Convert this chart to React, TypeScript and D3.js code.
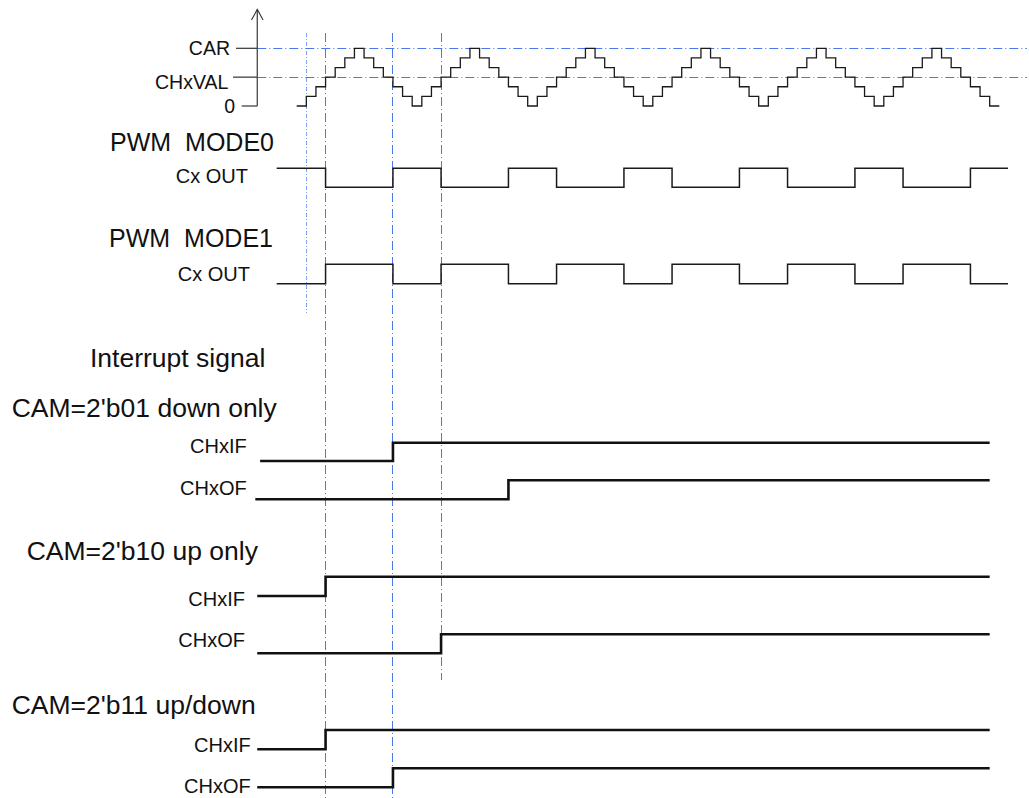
import React from 'react';
import * as d3 from 'd3';

// ---- data ----
const counterValues = [
  0,
  1, 2, 3, 4, 5, 6, 5, 4, 3, 2, 1, 0,
  1, 2, 3, 4, 5, 6, 5, 4, 3, 2, 1, 0,
  1, 2, 3, 4, 5, 6, 5, 4, 3, 2, 1, 0,
  1, 2, 3, 4, 5, 6, 5, 4, 3, 2, 1, 0,
  1, 2, 3, 4, 5, 6, 5, 4, 3, 2, 1, 0,
  1, 2, 3, 4, 5, 6, 5, 4, 3, 2, 1, 0,
];
const carValue = 6;
const chxValValue = 3;
const axisLabels = ['CAR', 'CHxVAL', '0'];
const axisValues = [6, 3, 0];
const markerSteps = [1, 3, 10, 15];
const pwmTitles = ['PWM  MODE0', 'PWM  MODE1'];
const pwmSignal = 'Cx OUT';
const interruptTitle = 'Interrupt signal';
const camTitles = ["CAM=2'b01 down only", "CAM=2'b10 up only", "CAM=2'b11 up/down"];
const ifEdgeSteps = [10, 3, 3];
const ofEdgeSteps = [22, 15, 10];
const flagNames = ['CHxIF', 'CHxOF'];

// ---- layout ----
const W = 1029;
const H = 798;
const FONT = "'Liberation Sans', Arial, Helvetica, sans-serif";
const BLUE = '#4a78f5';
const DASH = '9,3,1,3';

const x = d3.scaleLinear().domain([0, counterValues.length]).range([296.7, 999.3]);
const yC = d3.scaleLinear().domain([0, 6]).range([106, 48.3]);
const snap = (v: number) => Math.round(v - 0.5) + 0.5;

const stepLine = d3
  .line<[number, number]>()
  .x((d) => x(d[0]))
  .curve(d3.curveStepAfter);

const pwmLayout = [
  { titleX: 274, titleY: 151, sigX: 248, sigY: 183, high: 168.3, low: 187.3, invert: false },
  { titleX: 273, titleY: 247, sigX: 250, sigY: 281, high: 264.3, low: 283.7, invert: true },
];
const camLayout = [
  { titleX: 11.7, titleY: 417.3, rows: [
    { lx: 246.7, ly: 453.3, start: -3.8, high: 442.7, low: 461 },
    { lx: 246.7, ly: 495, start: -4.3, high: 480.3, low: 499.3 },
  ] },
  { titleX: 26.7, titleY: 560, rows: [
    { lx: 245, ly: 606, start: -4.1, high: 576.7, low: 596 },
    { lx: 245, ly: 647.3, start: -4.1, high: 634.3, low: 653.3 },
  ] },
  { titleX: 11.7, titleY: 714.3, rows: [
    { lx: 250.7, ly: 751.7, start: -4.1, high: 730, low: 749.3 },
    { lx: 250.7, ly: 792.7, start: -4.1, high: 768.3, low: 787.3 },
  ] },
];
const markerEnds = [313, 798, 798, 680];
const tickStarts = [236, 233, 241.7];
const labelEnds = [230, 228.3, 235];
const labelDy = [6.7, 12.2, 7.3];

export default function App() {
  const last = counterValues[counterValues.length - 1];
  const counterPts: [number, number][] = counterValues.map((v, i) => [i, v] as [number, number]);
  counterPts.push([counterValues.length, last]);
  const counterPath = stepLine.y((d) => yC(d[1]))(counterPts) || '';

  const axisX = 257.3;

  return (
    <svg
      width={W}
      height={H}
      style={{ position: 'absolute', left: 0, top: 0, background: '#fff' }}
      fontFamily={FONT}
    >
      <rect x={0} y={0} width={W} height={H} fill="#fff" />

      {/* reference lines */}
      {[carValue, chxValValue].map((v, i) => (
        <line key={'h' + i} x1={axisX} x2={1027} y1={snap(yC(v))} y2={snap(yC(v))} stroke={BLUE} strokeWidth={1} strokeDasharray={DASH} />
      ))}
      {markerSteps.map((s, i) => (
        <line key={'v' + i} x1={snap(x(s))} x2={snap(x(s))} y1={33} y2={markerEnds[i]} stroke={BLUE} strokeWidth={1} strokeDasharray={i === 0 ? '4,2,1,2' : DASH} opacity={i === 0 ? 0.7 : 1} />
      ))}

      {/* axis */}
      <line x1={axisX} x2={axisX} y1={9.5} y2={106} stroke="#555" strokeWidth={1.4} />
      <polyline points={`${axisX - 5.8},20 ${axisX},9.5 ${axisX + 5.8},20`} fill="none" stroke="#333" strokeWidth={1.1} />
      {axisValues.map((v, i) => (
        <g key={'t' + i}>
          <line x1={tickStarts[i]} x2={axisX} y1={yC(v)} y2={yC(v)} stroke="#333" strokeWidth={1.2} />
          <text x={labelEnds[i]} y={yC(v) + labelDy[i]} textAnchor="end" fontSize={19.5} fill="#111">
            {axisLabels[i]}
          </text>
        </g>
      ))}

      {/* counter staircase */}
      <path d={counterPath} fill="none" stroke="#1a1a1a" strokeWidth={1.3} />

      {/* PWM outputs */}
      {pwmLayout.map((p, k) => {
        const lvl = d3.scaleLinear().domain([0, 1]).range([p.low, p.high]);
        const state = (v: number) => {
          const s = v < chxValValue ? 1 : 0;
          return p.invert ? 1 - s : s;
        };
        const pts: [number, number][] = [[-2.08, state(counterValues[0])]];
        counterValues.forEach((v, i) => pts.push([i, state(v)]));
        pts.push([73.9, state(last)]);
        const d = stepLine.y((q) => lvl(q[1]))(pts) || '';
        return (
          <g key={'pwm' + k}>
            <text x={p.titleX} y={p.titleY} textAnchor="end" fontSize={25} fill="#111" style={{ whiteSpace: 'pre' }}>
              {pwmTitles[k]}
            </text>
            <text x={p.sigX} y={p.sigY} textAnchor="end" fontSize={20} fill="#111">
              {pwmSignal}
            </text>
            <path d={d} fill="none" stroke="#1a1a1a" strokeWidth={1.5} />
          </g>
        );
      })}

      {/* interrupts */}
      <text x={90} y={366.7} fontSize={26.5} fill="#111">
        {interruptTitle}
      </text>
      {camLayout.map((c, k) => {
        const edges = [ifEdgeSteps[k], ofEdgeSteps[k]];
        return (
          <g key={'cam' + k}>
            <text x={c.titleX} y={c.titleY} fontSize={26.5} fill="#111">
              {camTitles[k]}
            </text>
            {c.rows.map((r, j) => {
              const lvl = d3.scaleLinear().domain([0, 1]).range([r.low, r.high]);
              const pts: [number, number][] = [
                [r.start, 0],
                [edges[j], 1],
                [72, 1],
              ];
              const d = stepLine.y((q) => lvl(q[1]))(pts) || '';
              return (
                <g key={'r' + j}>
                  <text x={r.lx} y={r.ly} textAnchor="end" fontSize={20} fill="#111">
                    {flagNames[j]}
                  </text>
                  <path d={d} fill="none" stroke="#111" strokeWidth={2.6} />
                </g>
              );
            })}
          </g>
        );
      })}
    </svg>
  );
}
